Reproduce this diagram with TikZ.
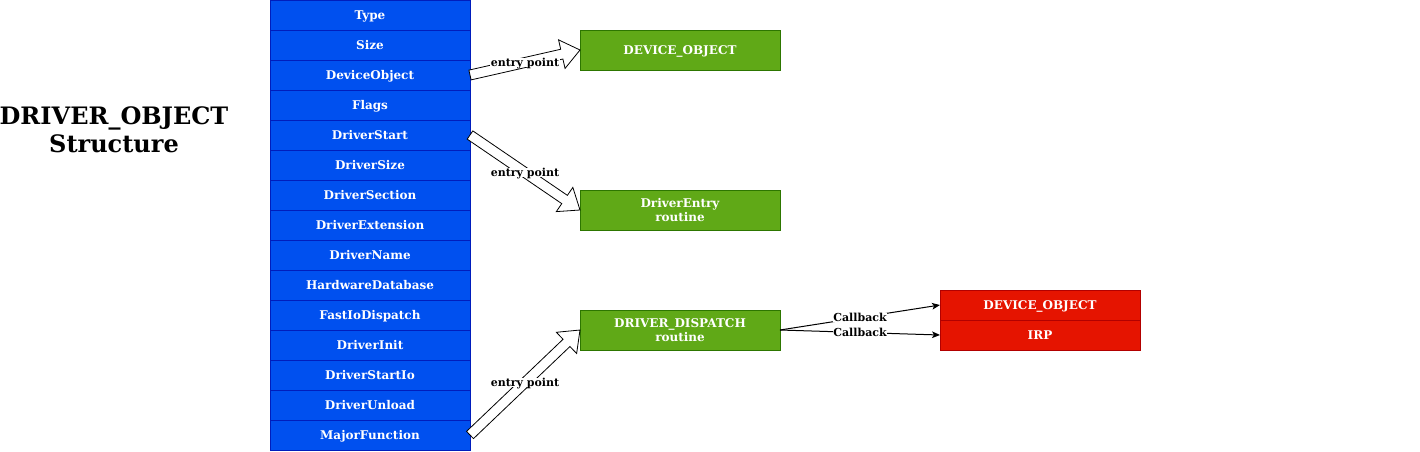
\documentclass[tikz,border=0pt]{standalone}
\usepackage{fontspec}
\setmainfont{DejaVu Serif}
\usetikzlibrary{calc,arrows.meta}
\definecolor{fieldfill}{HTML}{0050EF}
\definecolor{fieldline}{HTML}{001DBC}
\definecolor{routinefill}{HTML}{60A917}
\definecolor{routineline}{HTML}{2D7600}
\definecolor{argfill}{HTML}{E51400}
\definecolor{argline}{HTML}{B20000}
\tikzset{
  field/.style={
    draw = fieldline,
    fill = fieldfill,
    text = white,
    minimum width = 150pt,
    minimum height = 22.5pt,
    inner sep = 0pt,
    outer sep = 0pt,
    text depth = 0pt,
    line width = 0.6pt,
    font = \fontsize{9}{10.5}\selectfont\bfseries
  },
  routine/.style={
    field,
    draw = routineline,
    fill = routinefill,
    minimum height = 30pt,
    align = center
  },
  argbox/.style={
    field,
    draw = argline,
    fill = argfill
  },
  flex/.style={
    draw = black,
    fill = white,
    line width = 0.6pt,
    line join = miter
  },
  lbl/.style={
    fill = white,
    inner sep = 0.5pt,
    text depth = 0pt,
    font = \fontsize{8.25}{9}\selectfont\bfseries
  },
  callback/.style={
    draw = black,
    line width = 0.75pt,
    -{Stealth[length=6pt,width=5pt,inset=1.5pt]}
  }
}
% hollow fat arrow between two anchors, label in the middle
\newcommand{\entryarrow}[3]{%
  \coordinate (hb) at ($(#2)!14pt!(#1)$);
  \draw[flex] ($(#1)!3.75pt!90:(#2)$) -- ($(hb)!3.75pt!90:(#2)$)
    -- ($(hb)!11pt!90:(#2)$) -- (#2) -- ($(hb)!11pt!-90:(#2)$)
    -- ($(hb)!3.75pt!-90:(#2)$) -- ($(#1)!3.75pt!-90:(#2)$) -- cycle;
  \node[lbl] (#3) at ($(#1)!0.5!(#2)$) {entry point};
}
\begin{document}
\begin{tikzpicture}[x=0.75pt, y=-0.75pt]
    \useasboundingbox (0,0) rectangle (1420,451);

    \node[align=center, text depth=0pt, font=\fontsize{18}{21}\selectfont\bfseries] (title) at (114,130) {DRIVER\_OBJECT\\Structure};

    % the structure fields
    \foreach \fld [count=\i] in {Type,Size,DeviceObject,Flags,DriverStart,DriverSize,DriverSection,DriverExtension,DriverName,HardwareDatabase,FastIoDispatch,DriverInit,DriverStartIo,DriverUnload,MajorFunction}
        \node[field] (f\i) at (370,{30*\i-15}) {\fld};

    \node[routine] (devobj) at (680,50) {DEVICE\_OBJECT};
    \node[routine] (entry) at (680,210) {DriverEntry\\routine};
    \node[routine] (dispatch) at (680,330) {DRIVER\_DISPATCH\\routine};

    \node[argbox] (argdev) at (1040,305) {DEVICE\_OBJECT};
    \node[argbox] (argirp) at (1040,335) {IRP};

    \entryarrow{f3.east}{devobj.west}{ep1}
    \entryarrow{f5.east}{entry.west}{ep2}
    \entryarrow{f15.east}{dispatch.west}{ep3}

    \draw[callback] (dispatch.east) -- node[lbl] (cb1) {Callback} (argdev.west);
    \draw[callback] (dispatch.east) -- node[lbl] (cb2) {Callback} (argirp.west);
\end{tikzpicture}
\end{document}
